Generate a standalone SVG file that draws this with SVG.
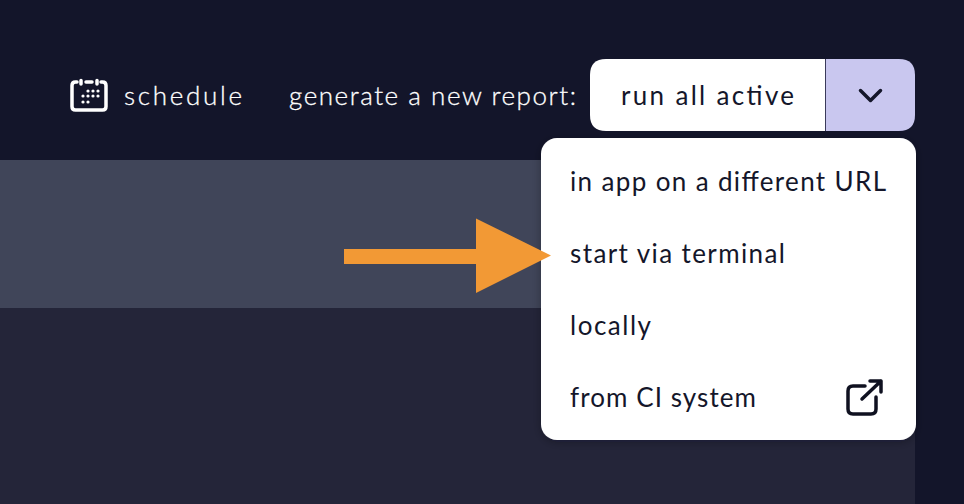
<svg xmlns="http://www.w3.org/2000/svg" width="964" height="504" viewBox="0 0 964 504">
<defs>
<style>
text{font-family:"Lato","Liberation Sans",sans-serif;font-size:26px;font-weight:400}
.w{fill:#fff;font-weight:300;stroke:#fff;stroke-width:.3px}
.d{fill:#14162a}
.i{fill:none;stroke-linecap:round;stroke-linejoin:round}
</style>
<filter id="sh" x="-10%" y="-10%" width="120%" height="120%"><feDropShadow dx="0" dy="2" stdDeviation="5" flood-color="#0a0b18" flood-opacity=".3"/></filter>
</defs>
<rect width="964" height="504" fill="#13152a"/>
<rect id="row-dark" y="308" width="915" height="196" fill="#242539"/>
<rect id="row-highlight" y="160" width="915" height="148" fill="#404559"/>
<g id="schedule">
<path class="i" stroke="#fff" stroke-width="3.500" d="M77 82H75.500Q72 82 72 85.500V106.500Q72 110 75.500 110H102.500Q106 110 106 106.500V85.500Q106 82 102.500 82H101M86 82H92M81 80.500V84M97 80.500V84"/>
<g fill="#fff"><circle cx="88" cy="91" r="1.600"/><circle cx="93" cy="91" r="1.600"/><circle cx="98" cy="91" r="1.600"/><circle cx="83" cy="96" r="1.600"/><circle cx="88" cy="96" r="1.600"/><circle cx="93" cy="96" r="1.600"/><circle cx="98" cy="96" r="1.600"/><circle cx="83" cy="102" r="1.600"/><circle cx="88" cy="102" r="1.600"/></g>
<text class="w" x="124" y="105" textLength="118" lengthAdjust="spacing">schedule</text>
</g>
<text id="generate-label" class="w" x="289" y="105" textLength="287" lengthAdjust="spacing">generate a new report:</text>
<g id="run-button">
<path fill="#fff" d="M825 59H606Q590 59 590 75V115Q590 131 606 131H825Z"/>
<path fill="#c9c7ef" d="M825 59H899Q915 59 915 75V115Q915 131 899 131H825Z"/>
<path stroke="#3a3a5a" stroke-width="1" d="M825.500 59V131"/>
<text class="d" x="621" y="105" textLength="173" lengthAdjust="spacing">run all active</text>
<path class="i" stroke="#14162a" stroke-width="3.500" d="M860.500 90.500L870.500 100.500L880.500 90.500"/>
</g>
<g id="menu">
<rect x="541" y="138" width="375" height="302" rx="16" fill="#fff" filter="url(#sh)"/>
<text class="d" x="570" y="191" textLength="316" lengthAdjust="spacing">in app on a different URL</text>
<text class="d" x="570" y="263" textLength="215" lengthAdjust="spacing">start via terminal</text>
<text class="d" x="570" y="335" textLength="81" lengthAdjust="spacing">locally</text>
<text class="d" x="570" y="407" textLength="186" lengthAdjust="spacing">from CI system</text>
<path class="i" stroke="#0f1120" stroke-width="3.500" d="M865 386H853Q848 386 848 391V409Q848 414 853 414H871Q876 414 876 409V397M862 399L881 381M870 381H881V392"/>
</g>
<path id="arrow" fill="#f29935" d="M344 249H476V218.500L551 255.500L476 293V264H344Z"/>
</svg>
